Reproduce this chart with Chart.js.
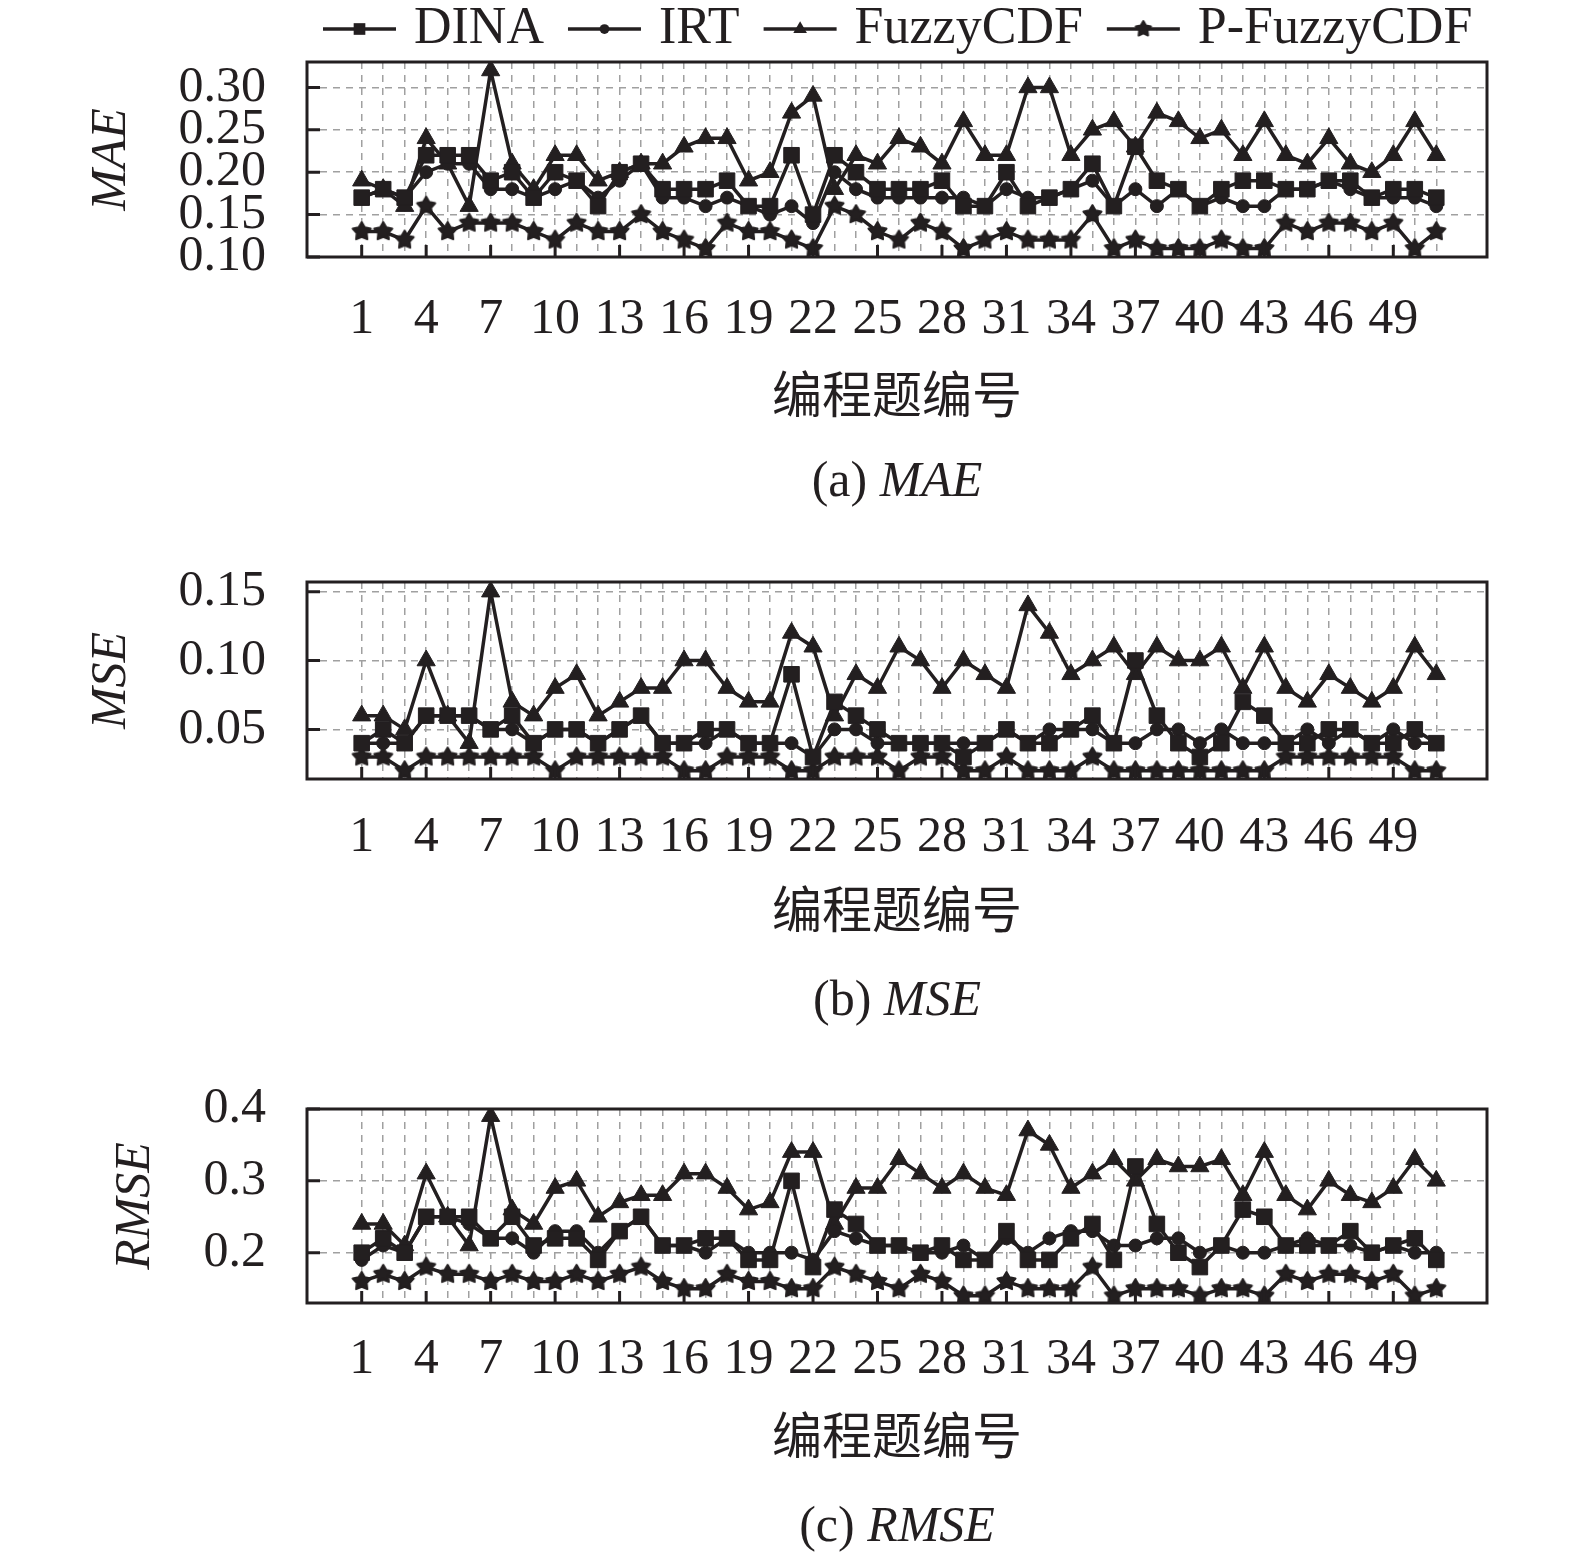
<!DOCTYPE html>
<html>
<head>
<meta charset="utf-8">
<script src="https://cdn.jsdelivr.net/npm/chart.js@4.4.1/dist/chart.umd.min.js"></script>
<style>
  body { margin: 0; background: #fff; width: 1575px; height: 1560px; position: relative; overflow: hidden; }
  .panel { position: absolute; left: 0; width: 1575px; }
  .caption { position: absolute; left: 597px; width: 600px; text-align: center;
    font: 50px/60px "Liberation Serif", "Times New Roman", serif; color: #231f20; white-space: nowrap; }
</style>
</head>
<body>
<div class="panel" style="top:0;height:430px"><canvas id="chartMAE"></canvas></div>
<div class="caption" style="top:449px">(a) <i>MAE</i></div>
<div class="panel" style="top:562px;height:383px"><canvas id="chartMSE"></canvas></div>
<div class="caption" style="top:968px">(b) <i>MSE</i></div>
<div class="panel" style="top:1089px;height:382px"><canvas id="chartRMSE"></canvas></div>
<div class="caption" style="top:1494px">(c) <i>RMSE</i></div>
<script>
// question numbers on the x axis
const questions = [1, 2, 3, 4, 5, 6, 7, 8, 9, 10, 11, 12, 13, 14, 15, 16, 17, 18, 19, 20,
  21, 22, 23, 24, 25, 26, 27, 28, 29, 30, 31, 32, 33, 34, 35, 36, 37, 38, 39, 40,
  41, 42, 43, 44, 45, 46, 47, 48, 49, 50, 51];
const xTickLabels = [1, 4, 7, 10, 13, 16, 19, 22, 25, 28, 31, 34, 37, 40, 43, 46, 49];

const maeTicks = [0.10, 0.15, 0.20, 0.25, 0.30];
const mseTicks = [0.05, 0.10, 0.15];
const rmseTicks = [0.2, 0.3, 0.4];

// MAE
const maeDINA = [0.17, 0.18, 0.17, 0.22, 0.22, 0.22, 0.19, 0.20, 0.17, 0.20, 0.19, 0.16, 0.20, 0.21, 0.18, 0.18, 0.18, 0.19, 0.16, 0.16,
  0.22, 0.15, 0.22, 0.20, 0.18, 0.18, 0.18, 0.19, 0.16, 0.16, 0.20, 0.16, 0.17, 0.18, 0.21, 0.16, 0.23, 0.19, 0.18, 0.16,
  0.18, 0.19, 0.19, 0.18, 0.18, 0.19, 0.19, 0.17, 0.18, 0.18, 0.17];
const maeIRT = [0.17, 0.18, 0.17, 0.20, 0.21, 0.21, 0.18, 0.18, 0.17, 0.18, 0.19, 0.17, 0.19, 0.21, 0.17, 0.17, 0.16, 0.17, 0.16, 0.15,
  0.16, 0.14, 0.20, 0.18, 0.17, 0.17, 0.17, 0.17, 0.17, 0.16, 0.18, 0.17, 0.17, 0.18, 0.19, 0.16, 0.18, 0.16, 0.18, 0.16,
  0.17, 0.16, 0.16, 0.18, 0.18, 0.19, 0.18, 0.17, 0.17, 0.17, 0.16];
const maeFuzzy = [0.19, 0.18, 0.16, 0.24, 0.21, 0.16, 0.32, 0.21, 0.18, 0.22, 0.22, 0.19, 0.20, 0.21, 0.21, 0.23, 0.24, 0.24, 0.19, 0.20,
  0.27, 0.29, 0.18, 0.22, 0.21, 0.24, 0.23, 0.21, 0.26, 0.22, 0.22, 0.30, 0.30, 0.22, 0.25, 0.26, 0.23, 0.27, 0.26, 0.24,
  0.25, 0.22, 0.26, 0.22, 0.21, 0.24, 0.21, 0.20, 0.22, 0.26, 0.22];
const maePFuzzy = [0.13, 0.13, 0.12, 0.16, 0.13, 0.14, 0.14, 0.14, 0.13, 0.12, 0.14, 0.13, 0.13, 0.15, 0.13, 0.12, 0.11, 0.14, 0.13, 0.13,
  0.12, 0.11, 0.16, 0.15, 0.13, 0.12, 0.14, 0.13, 0.11, 0.12, 0.13, 0.12, 0.12, 0.12, 0.15, 0.11, 0.12, 0.11, 0.11, 0.11,
  0.12, 0.11, 0.11, 0.14, 0.13, 0.14, 0.14, 0.13, 0.14, 0.11, 0.13];

// MSE
const mseDINA = [0.04, 0.05, 0.04, 0.06, 0.06, 0.06, 0.05, 0.06, 0.04, 0.05, 0.05, 0.04, 0.05, 0.06, 0.04, 0.04, 0.05, 0.05, 0.04, 0.04,
  0.09, 0.03, 0.07, 0.06, 0.05, 0.04, 0.04, 0.04, 0.03, 0.04, 0.05, 0.04, 0.04, 0.05, 0.06, 0.04, 0.10, 0.06, 0.04, 0.03,
  0.04, 0.07, 0.06, 0.04, 0.04, 0.05, 0.05, 0.04, 0.04, 0.05, 0.04];
const mseIRT = [0.04, 0.04, 0.04, 0.06, 0.06, 0.06, 0.05, 0.05, 0.04, 0.05, 0.05, 0.04, 0.05, 0.06, 0.04, 0.04, 0.04, 0.05, 0.04, 0.04,
  0.04, 0.03, 0.05, 0.05, 0.04, 0.04, 0.04, 0.04, 0.04, 0.04, 0.05, 0.04, 0.05, 0.05, 0.05, 0.04, 0.04, 0.05, 0.05, 0.04,
  0.05, 0.04, 0.04, 0.04, 0.05, 0.04, 0.05, 0.04, 0.05, 0.04, 0.04];
const mseFuzzy = [0.06, 0.06, 0.05, 0.10, 0.06, 0.04, 0.15, 0.07, 0.06, 0.08, 0.09, 0.06, 0.07, 0.08, 0.08, 0.10, 0.10, 0.08, 0.07, 0.07,
  0.12, 0.11, 0.06, 0.09, 0.08, 0.11, 0.10, 0.08, 0.10, 0.09, 0.08, 0.14, 0.12, 0.09, 0.10, 0.11, 0.09, 0.11, 0.10, 0.10,
  0.11, 0.08, 0.11, 0.08, 0.07, 0.09, 0.08, 0.07, 0.08, 0.11, 0.09];
const msePFuzzy = [0.03, 0.03, 0.02, 0.03, 0.03, 0.03, 0.03, 0.03, 0.03, 0.02, 0.03, 0.03, 0.03, 0.03, 0.03, 0.02, 0.02, 0.03, 0.03, 0.03,
  0.02, 0.02, 0.03, 0.03, 0.03, 0.02, 0.03, 0.03, 0.02, 0.02, 0.03, 0.02, 0.02, 0.02, 0.03, 0.02, 0.02, 0.02, 0.02, 0.02,
  0.02, 0.02, 0.02, 0.03, 0.03, 0.03, 0.03, 0.03, 0.03, 0.02, 0.02];

// RMSE
const rmseDINA = [0.20, 0.22, 0.20, 0.25, 0.25, 0.25, 0.22, 0.25, 0.21, 0.22, 0.22, 0.19, 0.23, 0.25, 0.21, 0.21, 0.22, 0.22, 0.19, 0.19,
  0.30, 0.18, 0.26, 0.24, 0.21, 0.21, 0.20, 0.21, 0.19, 0.19, 0.23, 0.19, 0.19, 0.22, 0.24, 0.19, 0.32, 0.24, 0.20, 0.18,
  0.21, 0.26, 0.25, 0.21, 0.21, 0.21, 0.23, 0.20, 0.21, 0.22, 0.19];
const rmseIRT = [0.19, 0.21, 0.20, 0.25, 0.25, 0.24, 0.22, 0.22, 0.20, 0.23, 0.23, 0.20, 0.23, 0.25, 0.21, 0.21, 0.20, 0.22, 0.20, 0.20,
  0.20, 0.19, 0.23, 0.22, 0.21, 0.21, 0.20, 0.20, 0.21, 0.19, 0.22, 0.20, 0.22, 0.23, 0.23, 0.21, 0.21, 0.22, 0.22, 0.20,
  0.21, 0.20, 0.20, 0.21, 0.22, 0.21, 0.21, 0.20, 0.21, 0.20, 0.20];
const rmseFuzzy = [0.24, 0.24, 0.21, 0.31, 0.25, 0.21, 0.39, 0.26, 0.24, 0.29, 0.30, 0.25, 0.27, 0.28, 0.28, 0.31, 0.31, 0.29, 0.26, 0.27,
  0.34, 0.34, 0.24, 0.29, 0.29, 0.33, 0.31, 0.29, 0.31, 0.29, 0.28, 0.37, 0.35, 0.29, 0.31, 0.33, 0.30, 0.33, 0.32, 0.32,
  0.33, 0.28, 0.34, 0.28, 0.26, 0.30, 0.28, 0.27, 0.29, 0.33, 0.30];
const rmsePFuzzy = [0.16, 0.17, 0.16, 0.18, 0.17, 0.17, 0.16, 0.17, 0.16, 0.16, 0.17, 0.16, 0.17, 0.18, 0.16, 0.15, 0.15, 0.17, 0.16, 0.16,
  0.15, 0.15, 0.18, 0.17, 0.16, 0.15, 0.17, 0.16, 0.14, 0.14, 0.16, 0.15, 0.15, 0.15, 0.18, 0.14, 0.15, 0.15, 0.15, 0.14,
  0.15, 0.15, 0.14, 0.17, 0.16, 0.17, 0.17, 0.16, 0.17, 0.14, 0.15];

const INK = "#231f20";
const SERIF = '"Liberation Serif", "Times New Roman", "Noto Sans CJK SC", serif';

// filled five-point star used as the P-FuzzyCDF marker
function makeStar(r) {
  const c = document.createElement("canvas");
  const s = Math.ceil(r * 2 + 4);
  c.width = c.height = s;
  const g = c.getContext("2d");
  g.translate(s / 2, s / 2);
  g.beginPath();
  for (let i = 0; i < 10; i++) {
    const rad = i % 2 ? r * 0.55 : r;
    const a = -Math.PI / 2 + (i * Math.PI) / 5;
    g.lineTo(Math.cos(a) * rad, Math.sin(a) * rad);
  }
  g.closePath();
  g.fillStyle = INK;
  g.fill();
  g.lineJoin = "round";
  g.lineWidth = 2;
  g.strokeStyle = INK;
  g.stroke();
  return c;
}
const starMarker = makeStar(9.5);
const starLegend = makeStar(8);

const seriesStyle = [
  { label: "DINA", pointStyle: "rect", radius: 11, legendStyle: "rect" },
  { label: "IRT", pointStyle: "circle", radius: 6.5, legendStyle: "circle" },
  { label: "FuzzyCDF", pointStyle: "triangle", radius: 10.5, legendStyle: "triangle" },
  { label: "P-FuzzyCDF", pointStyle: starMarker, radius: 9.5, legendStyle: starLegend },
];

// box, inward ticks
const framePlugin = {
  id: "frame",
  afterDraw(chart) {
    const { ctx, chartArea: a, scales } = chart;
    ctx.save();
    ctx.strokeStyle = INK;
    ctx.lineWidth = 3;
    ctx.beginPath();
    xTickLabels.forEach((v) => {
      const px = scales.x.getPixelForValue(v);
      ctx.moveTo(px, a.bottom);
      ctx.lineTo(px, a.bottom - 12);
    });
    scales.y.ticks.forEach((t) => {
      const py = scales.y.getPixelForValue(t.value);
      ctx.moveTo(a.left, py);
      ctx.lineTo(a.left + 13, py);
    });
    ctx.stroke();
    ctx.strokeRect(a.left, a.top, a.right - a.left, a.bottom - a.top);
    ctx.restore();
  },
};

function drawMarker(ctx, style, r, x, y) {
  if (typeof style === "object") {
    ctx.drawImage(style, x - style.width / 2, y - style.height / 2);
    return;
  }
  ctx.beginPath();
  if (style === "rect") {
    const s = r * Math.SQRT1_2;
    ctx.rect(x - s, y - s, 2 * s, 2 * s);
  } else if (style === "circle") {
    ctx.arc(x, y, r, 0, Math.PI * 2);
  } else if (style === "triangle") {
    for (let i = 0; i < 3; i++) {
      const a = (i * 2 * Math.PI) / 3;
      ctx.lineTo(x + Math.sin(a) * r, y - Math.cos(a) * r);
    }
    ctx.closePath();
  }
  ctx.fill();
}

// legend row above the first panel: line with marker, then name
const legendPlugin = {
  id: "lineLegend",
  afterDraw(chart) {
    const ctx = chart.ctx;
    const y = 29;
    let x = 323;
    ctx.save();
    ctx.font = "52px " + SERIF;
    ctx.textBaseline = "middle";
    ctx.fillStyle = INK;
    ctx.strokeStyle = INK;
    ctx.lineWidth = 3.5;
    seriesStyle.forEach((st) => {
      ctx.beginPath();
      ctx.moveTo(x, y);
      ctx.lineTo(x + 73, y);
      ctx.stroke();
      drawMarker(ctx, st.legendStyle, st.radius * 0.75, x + 36.5, y);
      ctx.fillText(st.label, x + 91, y);
      x += 91 + ctx.measureText(st.label).width + 24;
    });
    ctx.restore();
  },
};

function makeChart(id, o) {
  const datasets = o.series.map((vals, i) => ({
    label: seriesStyle[i].label,
    data: questions.map((q, j) => ({ x: q, y: vals[j] })),
    borderColor: INK,
    backgroundColor: INK,
    borderWidth: 3.5,
    pointStyle: seriesStyle[i].pointStyle,
    pointRadius: seriesStyle[i].radius,
    pointBorderWidth: 1,
    pointBackgroundColor: INK,
    pointBorderColor: INK,
    tension: 0,
  }));

  return new Chart(document.getElementById(id), {
    type: "line",
    data: { datasets },
    plugins: o.legend ? [framePlugin, legendPlugin] : [framePlugin],
    options: {
      responsive: true,
      maintainAspectRatio: false,
      animation: false,
      layout: { padding: { top: o.padTop, right: 88, left: 0, bottom: 0 } },
      plugins: { legend: { display: false }, tooltip: { enabled: false } },
      scales: {
        x: {
          type: "linear",
          min: -1.545,
          max: 53.36,
          afterBuildTicks: (s) => { s.ticks = questions.map((v) => ({ value: v })); },
          afterFit: (s) => {
            s.height = o.xHeight;
            s.paddingLeft = 0;
            s.paddingRight = 0;
          },
          grid: { color: "#a0a0a0", lineWidth: 1.5, drawTicks: false },
          border: { display: false, dash: [7, 6] },
          ticks: {
            autoSkip: false,
            maxRotation: 0,
            padding: o.labelPad,
            color: INK,
            font: { family: SERIF, size: 50 },
            callback: (v) => (xTickLabels.includes(v) ? String(v) : ""),
          },
          title: {
            display: true,
            text: "编程题编号",
            color: INK,
            padding: { top: 0, bottom: 0 },
            font: { family: SERIF, size: 50 },
          },
        },
        y: {
          min: o.yMin,
          max: o.yMax,
          afterBuildTicks: (s) => { s.ticks = o.yTicks.map((v) => ({ value: v })); },
          afterFit: (s) => {
            s.width = 307;
            s.paddingTop = 0;
            s.paddingBottom = 0;
          },
          grid: { color: "#a0a0a0", lineWidth: 1.5, drawTicks: false },
          border: { display: false, dash: [7, 6] },
          ticks: {
            autoSkip: false,
            padding: 41,
            color: INK,
            font: { family: SERIF, size: 50 },
            callback: (v) => v.toFixed(o.digits),
          },
          title: {
            display: true,
            text: o.yTitle,
            color: INK,
            padding: { top: o.titlePad, bottom: 0 },
            font: { family: SERIF, size: 50, style: "italic" },
          },
        },
      },
    },
  });
}

makeChart("chartMAE", {
  series: [maeDINA, maeIRT, maeFuzzy, maePFuzzy],
  yTicks: maeTicks, yMin: 0.10, yMax: 0.33, digits: 2,
  yTitle: "MAE", titlePad: 82, padTop: 62, xHeight: 173, labelPad: 33, legend: true,
});
makeChart("chartMSE", {
  series: [mseDINA, mseIRT, mseFuzzy, msePFuzzy],
  yTicks: mseTicks, yMin: 0.014, yMax: 0.157, digits: 2,
  yTitle: "MSE", titlePad: 82, padTop: 20, xHeight: 166, labelPad: 29,
});
makeChart("chartRMSE", {
  series: [rmseDINA, rmseIRT, rmseFuzzy, rmsePFuzzy],
  yTicks: rmseTicks, yMin: 0.13, yMax: 0.40, digits: 1,
  yTitle: "RMSE", titlePad: 106, padTop: 20, xHeight: 168, labelPad: 27,
});
</script>
</body>
</html>
